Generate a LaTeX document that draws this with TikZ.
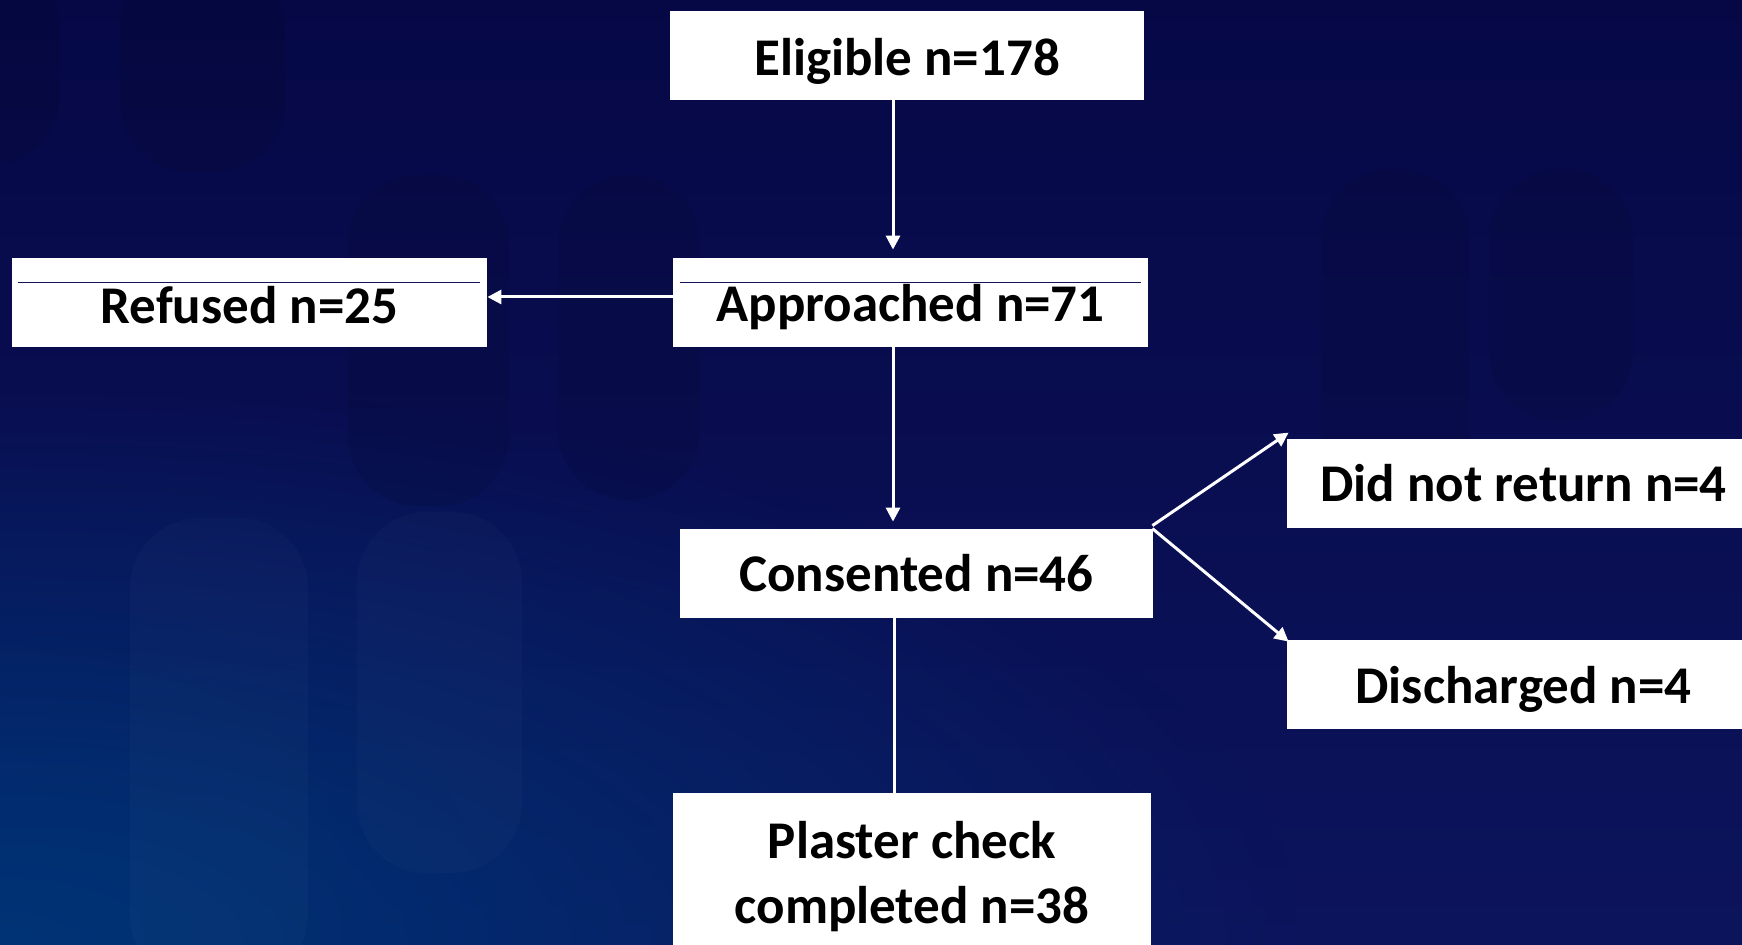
\documentclass[tikz,border=0pt]{standalone}
\usepackage{fontspec}
\setmainfont{Carlito}
\usetikzlibrary{arrows.meta,calc,fadings}
\definecolor{bgtop}{RGB}{6,8,70}
\definecolor{bgbot}{RGB}{12,20,92}
\definecolor{bgleft}{RGB}{0,52,118}
\definecolor{rulenavy}{RGB}{20,20,90}
\newcommand\dn[2]{\raisebox{-#1}[\height][\depth]{#2}}
\tikzfading[name=radfade, inner color=transparent!0, outer color=transparent!100]
\begin{document}
\begin{tikzpicture}[x=0.5pt,y=-0.5pt,
  box/.style={fill=white, draw=none, minimum height=44.5pt, inner sep=0pt, align=center,
    font=\fontsize{26.5}{32.5}\selectfont\bfseries, text=black},
  arr/.style={draw=white, line width=1.5pt, -{Triangle[width=7pt,length=7pt]}},
  conn/.style={draw=white, line width=1.5pt},
  rulel/.style={draw=rulenavy, line width=0.8pt},
  ghostdark/.style={fill=black, fill opacity=0.07, rounded corners=35pt},
  ghostlight/.style={fill=white, fill opacity=0.018, rounded corners=35pt}]
\useasboundingbox (0,0) rectangle (1742,945);
% background
\shade[top color=bgtop, bottom color=bgbot] (0,0) rectangle (1742,945);
\fill[bgleft, path fading=radfade, fit fading=true] (-1300,380) rectangle (1300,1510);
\fill[bgleft, opacity=0.35, path fading=radfade, fit fading=true] (-500,600) rectangle (500,1290);
% faint background texture
\fill[ghostdark] (120,-40) rectangle (285,172);
\fill[ghostdark] (348,175) rectangle (509,506);
\fill[ghostdark] (558,175) rectangle (700,500);
\fill[ghostdark] (-40,-40) rectangle (60,165);
\fill[ghostdark] (1321,169) rectangle (1469,520);
\fill[ghostdark] (1489,169) rectangle (1633,422);
\fill[ghostlight] (130,518) rectangle (308,985);
\fill[ghostlight] (357,512) rectangle (522,873);
% nodes
\node[box, minimum width=237pt] (elig) at (907,55.5) {\dn{2.8pt}{Eligible n=178}};
\node[box, minimum width=237.5pt] (refu) at (249.5,302.5) {\dn{1.2pt}{Refused n=25}};
\node[box, minimum width=237.5pt] (appr) at (910.5,302.5) {\dn{2.2pt}{Approached n=71}};
\node[box, minimum width=236.5pt] (cons) at (916.5,573.5) {Consented n=46};
\node[box, minimum width=236.5pt] (dnr) at (1523.5,483.5) {Did not return n=4};
\node[box, minimum width=236.5pt] (disc) at (1523.5,684.5) {\dn{2.2pt}{Discharged n=4}};
\node[box, minimum width=239pt, minimum height=76pt] (plas) at (912,869)
  {\dn{4.4pt}{\begin{tabular}{@{}c@{}}Plaster check\\completed n=38\end{tabular}}};
% thin rules inside boxes
\draw[rulel] ($(refu.north west)+(6,25)$) -- ($(refu.north east)+(-7,25)$);
\draw[rulel] ($(appr.north west)+(7,25)$) -- ($(appr.north east)+(-7,25)$);
% connectors
\draw[arr, shorten >=4pt] ([xshift=-7pt]elig.south) -- ([xshift=-8.75pt]appr.north);
\draw[arr] ([yshift=2.75pt]appr.west) -- ([yshift=2.75pt]refu.east);
\draw[arr, shorten >=3.5pt] ([xshift=-8.75pt]appr.south) -- ([xshift=-11.75pt]cons.north);
\draw[arr] ($(cons.north east)+(-1,-3)$) -- ($(dnr.north west)+(2,-6)$);
\draw[arr] ($(cons.north east)+(-1,0)$) -- ($(disc.north west)+(2,2)$);
\draw[conn] ([xshift=-11.25pt]cons.south) -- ([xshift=-9pt]plas.north);
\end{tikzpicture}
\end{document}
